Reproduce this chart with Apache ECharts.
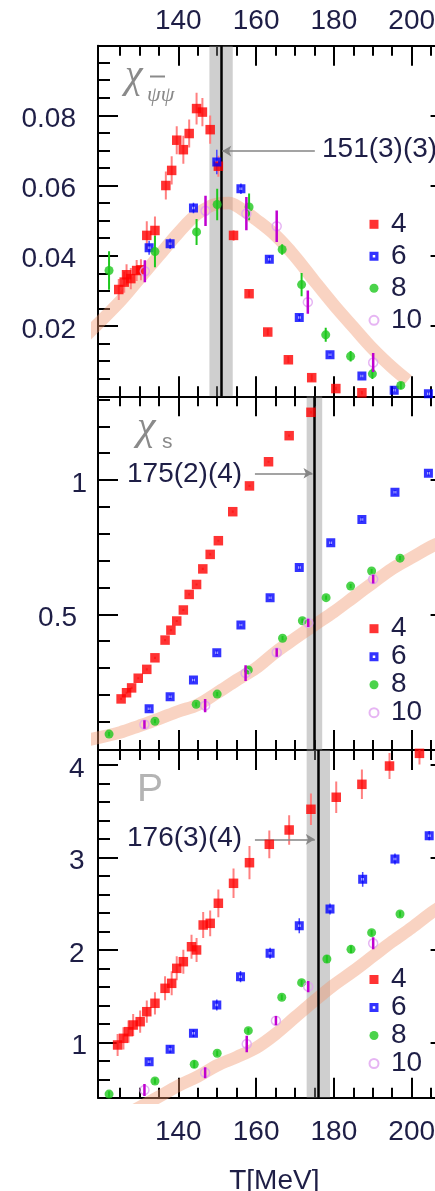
<!DOCTYPE html>
<html>
<head>
<meta charset="utf-8">
<title>Susceptibilities and pressure vs temperature</title>
<script src="https://cdn.jsdelivr.net/npm/echarts@6.0.0/dist/echarts.min.js"></script>
<style>
  html, body { margin: 0; padding: 0; background: #fff; }
  #chart { width: 435px; height: 1191px; }
</style>
</head>
<body>
<div id="chart"></div>
<script>
// ---------- temperature axis (MeV) ----------
const xMajorTicks = [140, 160, 180, 200];
const X_MAJOR_FROM = 140, X_MAJOR_STEP = 20;
const X_MINOR_FROM = 125, X_MINOR_STEP = 5;

// ---------- chiral susceptibility ----------
const pbpT4 = [124.7,126.1,126.7,127.8,129.3,130.4,131.9,134.0,136.8,138.3,139.6,141.3,142.8,144.7,146.2,148.2,150.3,154.2,158.2,163.0,168.3,174.3,180.5,187.2];
const pbpV4 = [0.0304,0.0325,0.0346,0.0335,0.0358,0.0360,0.0458,0.0472,0.0600,0.0643,0.0729,0.0702,0.0748,0.0819,0.0809,0.0759,0.0655,0.0458,0.0292,0.0183,0.0104,0.0053,0.0022,0.0010];
const pbpE4 = [0.003,0.003,0.003,0.003,0.003,0.003,0.004,0.004,0.004,0.004,0.004,0.004,0.004,0.0045,0.004,0.004,0.003,0.0015,0.001,0.001,0.001,0.001,0.0005,0.0005];
const pbpT6 = [132.5,137.9,143.9,149.9,156.1,163.4,171.1,179.0,187.2,195.5,204.3];
const pbpV6 = [0.0423,0.0434,0.0536,0.0667,0.0591,0.0390,0.0224,0.0118,0.0058,0.0017,0.0007];
const pbpE6 = [0.002,0.0015,0.0015,0.0035,0.0015,0.001,0.001,0.0007,0.0005,0.0005,0.0005];
const pbpT8 = [122.2,134.0,144.7,150.0,158.2,166.7,171.7,177.9,184.3,189.9,197.2];
const pbpV8 = [0.0358,0.0412,0.0468,0.0546,0.0539,0.0418,0.0318,0.0175,0.0114,0.0064,0.0031];
const pbpE8 = [0.0055,0.0045,0.0037,0.0045,0.0038,0.0015,0.0033,0.002,0.0015,0.0015,0.001];
const pbpT10 = [131.4,147.0,157.5,165.3,173.3,190.1];
const pbpV10 = [0.0356,0.0528,0.0520,0.0484,0.0268,0.0096];
const pbpE10 = [0.0031,0.0043,0.0047,0.0045,0.0033,0.0027];
const pbpBandT = [116,125,130,135,140,145,150,153,156,160,165,170,175,180,185,190,195,199];
const pbpBand  = [0.0170,0.0270,0.0335,0.0400,0.0465,0.0520,0.0548,0.0550,0.0535,0.0503,0.0458,0.0398,0.0328,0.0260,0.0197,0.0135,0.0082,0.0045];

// ---------- strange quark number susceptibility ----------
const sT4 = [125.3,126.7,128.0,129.7,131.9,134.0,136.6,138.1,139.6,141.3,142.8,144.7,146.3,148.2,150.3,154.0,158.3,163.2,168.5,174.1];
const sV4 = [0.185,0.208,0.226,0.262,0.295,0.338,0.404,0.441,0.475,0.516,0.574,0.611,0.669,0.723,0.774,0.882,0.978,1.068,1.165,1.252];
const sE4 = [0.004,0.004,0.004,0.004,0.004,0.004,0.004,0.004,0.004,0.004,0.004,0.004,0.004,0.004,0.004,0.004,0.004,0.004,0.004,0.004];
const sT6 = [132.5,137.9,143.9,149.9,156.1,163.6,171.1,179.2,187.2,195.7,204.3];
const sV6 = [0.148,0.193,0.255,0.357,0.460,0.562,0.674,0.766,0.853,0.954,1.025];
const sE6 = [0.008,0.008,0.008,0.008,0.008,0.008,0.008,0.008,0.008,0.008,0.008];
const sT8 = [122.2,134.0,144.6,150.0,158.0,166.8,171.9,178.0,184.3,189.7,197.0];
const sV8 = [0.054,0.102,0.165,0.203,0.293,0.411,0.476,0.562,0.605,0.661,0.709];
const sE8 = [0.008,0.008,0.008,0.008,0.008,0.008,0.008,0.008,0.008,0.008,0.008];
const sT10 = [131.3,146.9,157.3,165.3,173.4,190.1];
const sV10 = [0.090,0.160,0.281,0.358,0.468,0.631];
const sE10 = [0.016,0.025,0.029,0.016,0.015,0.016];
const sBandT = [116,125,130,135,140,145,150,155,160,165,170,175,180,185,190,195,200,206,212];
const sBand  = [0.030,0.060,0.085,0.111,0.139,0.163,0.208,0.255,0.300,0.359,0.410,0.460,0.509,0.563,0.617,0.670,0.711,0.759,0.790];

// ---------- pressure ----------
const pT4 = [124.4,125.9,127.2,128.4,130.2,131.9,134.0,136.6,138.3,139.6,141.3,143.4,144.7,146.4,148.2,150.3,154.2,158.3,163.4,168.5,174.1,180.6,187.2,194.3,202.0];
const pV4 = [0.971,1.043,1.115,1.187,1.223,1.331,1.422,1.584,1.638,1.800,1.872,2.034,1.999,2.269,2.287,2.504,2.720,2.943,3.142,3.297,3.521,3.651,3.791,3.989,4.126];
const pE4 = [0.12,0.12,0.12,0.12,0.12,0.12,0.12,0.13,0.13,0.13,0.13,0.13,0.13,0.14,0.14,0.15,0.16,0.18,0.15,0.16,0.17,0.17,0.16,0.14,0.12];
const pT6 = [132.5,137.9,143.9,149.9,156.0,163.6,171.1,179.0,187.4,195.7,204.5];
const pV6 = [0.790,0.924,1.097,1.404,1.710,1.963,2.261,2.442,2.763,2.983,3.235];
const pE6 = [0.03,0.04,0.04,0.06,0.06,0.06,0.08,0.06,0.08,0.06,0.05];
const pT8 = [122.2,134.0,144.1,150.0,158.0,166.6,171.7,178.2,184.4,189.7,197.0];
const pV8 = [0.440,0.581,0.762,0.881,1.126,1.487,1.645,1.901,2.006,2.186,2.388];
const pE8 = [0.03,0.03,0.04,0.03,0.03,0.03,0.03,0.04,0.04,0.03,0.03];
const pT10 = [131.3,146.9,157.6,165.1,173.4,190.1];
const pV10 = [0.484,0.671,0.982,1.234,1.602,2.071];
const pE10 = [0.065,0.06,0.09,0.05,0.06,0.065];
const pBandT = [128,134.5,140,145,150,155,160,165,170,175,180,185,190,195,200,206,212];
const pBand  = [0.25,0.40,0.53,0.63,0.75,0.84,0.94,1.09,1.27,1.45,1.62,1.77,1.93,2.09,2.24,2.43,2.58];

// ---------- transition temperatures ----------
const tcLabels = ['151(3)(3)', '175(2)(4)', '176(3)(4)'];
const tcValues = [151, 175, 176];
const tcErrors = [3, 2, 3];

// ---------- y tick labels ----------
const pbpTickLabels = [0.02, 0.04, 0.06, 0.08];
const sTickLabels = [0.5, 1];
const pTickLabels = [1, 2, 3, 4];
const ntLabels = ['4', '6', '8', '10'];

// ---------- drawing ----------
const X_MIN = 119.36, X_MAX = 210, PX_PER_MEV = 3.89, FRAME_LEFT = 98;
const INK = '#1e1e46';
const FONT = 'Liberation Sans';

const panels = [
  { top: 45.7, height: 350.6, ymin: 0, ymax: 0.0998,
    labels: pbpTickLabels, majorFrom: 0.02, majorStep: 0.02, minorFrom: 0.005, minorStep: 0.005,
    margin: 22, fmt: v => '{b|' + v.toFixed(2) + '}', padB: 0,
    sets: [[pbpT4,pbpV4,pbpE4],[pbpT6,pbpV6,pbpE6],[pbpT8,pbpV8,pbpE8],[pbpT10,pbpV10,pbpE10]],
    band: [pbpBandT, pbpBand],
    arrow: [[175.1, 0.0698], [151.3, 0.0698]],
    legendTop: 208.3, legendLine: 32 },
  { top: 396.3, height: 353.7, ymin: -0.0052, ymax: 1.3116,
    labels: sTickLabels, majorFrom: 0.5, majorStep: 0.5, minorFrom: 0.1, minorStep: 0.1,
    margin: 11, fmt: v => v === 1 ? '{a|1}' : '{b|' + v + '}', padB: 10,
    sets: [[sT4,sV4,sE4],[sT6,sV6,sE6],[sT8,sV8,sE8],[sT10,sV10,sE10]],
    band: [sBandT, sBand],
    arrow: [[159.7, 1.025], [174.5, 1.025]],
    legendTop: 614.7, legendLine: 27.3 },
  { top: 750, height: 347.7, ymin: 0.4006, ymax: 4.1623,
    labels: pTickLabels, majorFrom: 1, majorStep: 1, minorFrom: 0.6, minorStep: 0.2,
    margin: 11, fmt: v => v === 1 ? '{a|1}' : '{b|' + v + '}', padB: 2.5,
    sets: [[pT4,pV4,pE4],[pT6,pV6,pE6],[pT8,pV8,pE8],[pT10,pV10,pE10]],
    band: [pBandT, pBand],
    arrow: [[159.7, 3.196], [175.1, 3.196]],
    legendTop: 965.5, legendLine: 27.5 }
];

const markStyle = {
  '4':  { symbol: 'rect', size: 9.5, item: { color: '#ff0000' }, bar: '#ff8080', barW: 2, barZ: 4 },
  '6':  { symbol: 'path://M0 0H10V10H0ZM3.6 3.6V6.4H6.4V3.6Z', size: 9, item: { color: '#0000ff' }, bar: '#4646ff', barW: 1.5, barZ: 4 },
  '8':  { symbol: 'circle', size: 9, item: { color: '#1ec81e' }, bar: '#1ec81e', barW: 2, barZ: 4 },
  '10': { symbol: 'circle', size: 9, item: { color: 'rgba(255,255,255,0)', borderColor: '#e0a2f0', borderWidth: 1.5 }, bar: '#c000d0', barW: 2.5, barZ: 6 }
};

const TICK_MAJOR = 20, TICK_MINOR_X = 10, TICK_MINOR_Y = 12;
const tickLine = { color: '#000', width: 2 };
const frameLine = { color: '#000', width: 2 };

// draws a straight segment between two data points
function segmentItem(color, width) {
  return (params, api) => {
    const a = api.coord([api.value(0), api.value(1)]);
    const b = api.coord([api.value(2), api.value(3)]);
    return { type: 'line', shape: { x1: a[0], y1: a[1], x2: b[0], y2: b[1] },
             style: { stroke: color, lineWidth: width } };
  };
}

const grid = [], xAxis = [], yAxis = [], series = [], legend = [];
const hiddenAxis = (g) => ({ type: 'value', gridIndex: g, show: false, min: 0, max: 1 });

// a grid that only carries axis ticks (inward, both sides), its scale starting on a tick value
function addTickGrid(box, dir, min, max, interval, len) {
  const g = grid.length;
  grid.push(Object.assign({ containLabel: false, outerBoundsMode: 'none' }, box));
  const tickAxis = (position) => ({
    type: 'value', gridIndex: g, position, min, max, interval,
    axisLine: { show: false }, axisLabel: { show: false }, splitLine: { show: false },
    axisPointer: { show: false },
    axisTick: { show: true, inside: true, length: len, lineStyle: tickLine }
  });
  if (dir === 'x') {
    xAxis.push(tickAxis('bottom'), tickAxis('top'));
    yAxis.push(hiddenAxis(g));
  } else {
    yAxis.push(tickAxis('left'), tickAxis('right'));
    xAxis.push(hiddenAxis(g));
  }
}

const FRAME_WIDTH = (X_MAX - X_MIN) * PX_PER_MEV;

panels.forEach((p, g) => {
  grid.push({ left: FRAME_LEFT, top: p.top, width: FRAME_WIDTH, height: p.height,
              containLabel: false, outerBoundsMode: 'none' });
  const xi = xAxis.length, yi = yAxis.length;

  const xBase = { type: 'value', gridIndex: g, min: X_MIN, max: X_MAX, splitLine: { show: false },
                  axisTick: { show: false }, axisPointer: { show: false },
                  axisLine: { show: true, onZero: false, lineStyle: frameLine } };
  xAxis.push(Object.assign({}, xBase, {
    position: 'bottom',
    axisLabel: { show: g === 2, customValues: xMajorTicks, margin: 21, fontSize: 28, color: INK, fontFamily: FONT },
    name: g === 2 ? 'T[MeV]' : '', nameLocation: 'middle', nameGap: 70,
    nameTextStyle: { fontSize: 28, color: INK, fontFamily: FONT }
  }));
  xAxis.push(Object.assign({}, xBase, {
    position: 'top',
    axisLabel: { show: g === 0, customValues: xMajorTicks, margin: 10.4, fontSize: 28, color: INK, fontFamily: FONT }
  }));

  const yBase = { type: 'value', gridIndex: g, min: p.ymin, max: p.ymax, splitLine: { show: false },
                  axisTick: { show: false }, axisPointer: { show: false },
                  axisLine: { show: true, onZero: false, lineStyle: frameLine } };
  yAxis.push(Object.assign({}, yBase, {
    position: 'left',
    axisLabel: {
      show: true, customValues: p.labels, margin: p.margin, formatter: p.fmt,
      rich: {
        a: { fontSize: 28, color: INK, fontFamily: FONT, padding: [8, 0, 0, 0] },
        b: { fontSize: 28, color: INK, fontFamily: FONT, padding: [8, p.padB, 0, 0] }
      }
    }
  }));
  yAxis.push(Object.assign({}, yBase, { position: 'right', axisLabel: { show: false } }));

  const axes = { xAxisIndex: xi, yAxisIndex: yi };

  // uncertainty band of the transition temperature
  series.push(Object.assign({
    type: 'line', name: 'tc-band', data: [], z: 1, silent: true,
    markArea: {
      silent: true,
      itemStyle: { color: 'rgba(140,140,140,0.42)' },
      data: [[{ xAxis: tcValues[g] - tcErrors[g] }, { xAxis: tcValues[g] + tcErrors[g] }]]
    }
  }, axes));

  // continuum extrapolation band
  series.push(Object.assign({
    type: 'line', name: 'continuum', z: 2, silent: true, smooth: 0.35, symbol: 'none',
    lineStyle: { color: 'rgba(240,150,110,0.42)', width: 12.5, cap: 'butt' },
    data: p.band[0].map((t, i) => [t, p.band[1][i]])
  }, axes));

  // transition temperature line and pointer
  series.push(Object.assign({
    type: 'line', name: 'tc-line', data: [], z: 3, silent: true,
    markLine: {
      silent: true, symbol: 'none', animation: false,
      label: { show: false },
      data: [
        { xAxis: tcValues[g], lineStyle: { color: '#000', width: 2.5, type: 'solid' } },
        [
          { coord: p.arrow[0], symbol: 'none', lineStyle: { color: '#858585', width: 1.6, type: 'solid' } },
          { coord: p.arrow[1], symbol: 'arrow', symbolSize: [8, 9] }
        ]
      ]
    }
  }, axes));

  // lattice data per Nt
  p.sets.forEach((set, k) => {
    const nt = ntLabels[k];
    const st = markStyle[nt];
    const [T, V, E] = set;
    series.push(Object.assign({
      type: 'custom', name: 'err' + nt, z: st.barZ, silent: true, clip: true,
      renderItem: segmentItem(st.bar, st.barW),
      data: T.map((t, i) => [t, V[i] - E[i], t, V[i] + E[i]])
    }, axes));
    series.push(Object.assign({
      type: 'scatter', name: nt, z: 5, silent: true,
      symbol: st.symbol, symbolSize: st.size, itemStyle: st.item,
      data: T.map((t, i) => [t, V[i]])
    }, axes));
  });

  legend.push({
    data: ntLabels, orient: 'vertical', left: 368.5, top: p.legendTop,
    padding: 0, itemGap: 0, itemWidth: 9, itemHeight: 9, selectedMode: false,
    textStyle: { fontSize: 28, color: INK, fontFamily: FONT, lineHeight: p.legendLine, padding: [0, 0, 0, 7.5] }
  });
});

// tick-carrying grids, aligned with each frame
panels.forEach((p) => {
  const pxPerY = p.height / (p.ymax - p.ymin);
  const yPix = v => p.top + (p.ymax - v) * pxPerY;
  const xPix = v => FRAME_LEFT + (v - X_MIN) * PX_PER_MEV;
  // temperature ticks (top and bottom edges)
  addTickGrid({ left: xPix(X_MAJOR_FROM), width: xPix(X_MAX) - xPix(X_MAJOR_FROM), top: p.top, height: p.height },
              'x', X_MAJOR_FROM, X_MAX, X_MAJOR_STEP, TICK_MAJOR);
  addTickGrid({ left: xPix(X_MINOR_FROM), width: xPix(X_MAX) - xPix(X_MINOR_FROM), top: p.top, height: p.height },
              'x', X_MINOR_FROM, X_MAX, X_MINOR_STEP, TICK_MINOR_X);
  // value ticks (left and right edges)
  addTickGrid({ left: FRAME_LEFT, width: FRAME_WIDTH, top: p.top, height: yPix(p.majorFrom) - p.top },
              'y', p.majorFrom, p.ymax, p.majorStep, TICK_MAJOR);
  addTickGrid({ left: FRAME_LEFT, width: FRAME_WIDTH, top: p.top, height: yPix(p.minorFrom) - p.top },
              'y', p.minorFrom, p.ymax, p.minorStep, TICK_MINOR_Y);
});

const grey = '#8a8a8a';
const graphic = [
  // chi with psi-bar-psi subscript
  { type: 'text', left: 125, top: 56, silent: true,
    style: { text: 'χ', font: 'italic 40px "Liberation Serif"', fill: grey } },
  { type: 'text', left: 147, top: 84, silent: true,
    style: { text: 'ψψ', font: 'italic 22px "Liberation Serif"', fill: grey } },
  { type: 'rect', shape: { x: 150, y: 75.5, width: 15, height: 2 }, silent: true, style: { fill: grey } },
  // chi_s
  { type: 'text', left: 137, top: 407, silent: true,
    style: { text: 'χ', font: 'italic 42px "Liberation Serif"', fill: grey } },
  { type: 'text', left: 162, top: 432, silent: true,
    style: { text: 's', font: '21px "Liberation Sans"', fill: grey } },
  // P
  { type: 'text', left: 137, top: 771, silent: true,
    style: { text: 'P', font: '39px "Liberation Sans"', fill: '#b4b4b4' } },
  // transition temperatures
  { type: 'text', left: 322, top: 135, silent: true,
    style: { text: tcLabels[0], font: '28px "Liberation Sans"', fill: INK } },
  { type: 'text', left: 127, top: 460, silent: true,
    style: { text: tcLabels[1], font: '28px "Liberation Sans"', fill: INK } },
  { type: 'text', left: 127, top: 824, silent: true,
    style: { text: tcLabels[2], font: '28px "Liberation Sans"', fill: INK } }
];

const chart = echarts.init(document.getElementById('chart'), null, { renderer: 'canvas' });
chart.setOption({
  animation: false,
  backgroundColor: '#ffffff',
  textStyle: { fontFamily: FONT },
  grid, xAxis, yAxis, series, legend, graphic
});
</script>
</body>
</html>
